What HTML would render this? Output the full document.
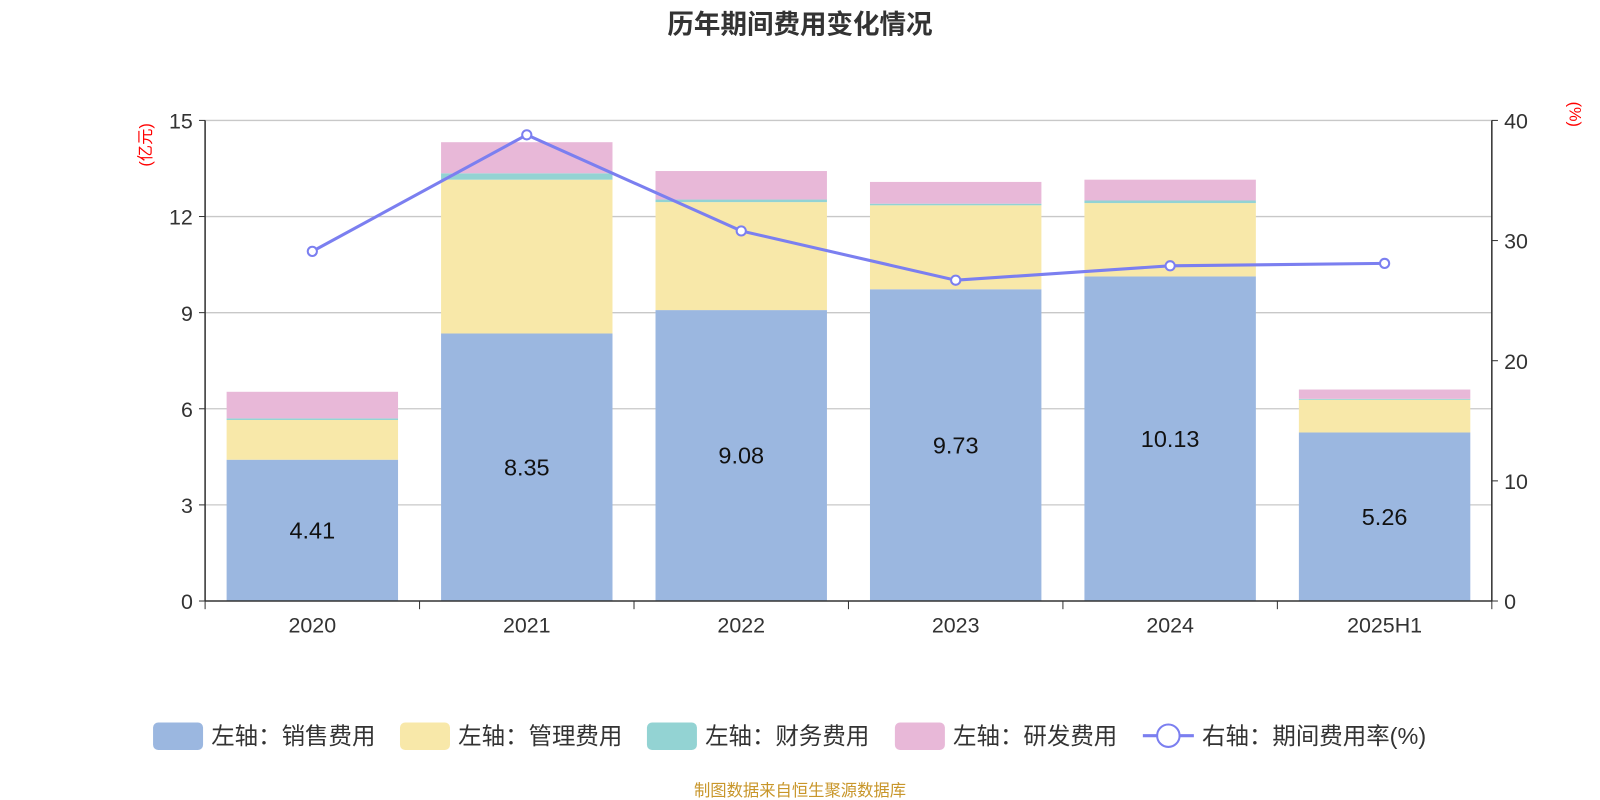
<!DOCTYPE html>
<html><head><meta charset="utf-8">
<style>
html,body{margin:0;padding:0;background:#fff;}
svg{display:block;font-family:"Liberation Sans","Noto Sans CJK SC",sans-serif;}
</style></head>
<body>
<svg id="chart" width="1600" height="800" viewBox="0 0 1600 800">
<g transform="scale(1.0204)">
<text x="784" y="33" text-anchor="middle" font-size="26" font-weight="bold" fill="#333">历年期间费用变化情况</text>
<text transform="translate(148,142) rotate(-90)" text-anchor="middle" font-size="16" fill="#f00">(亿元)</text>
<text transform="translate(1538,112) rotate(90)" text-anchor="middle" font-size="16" fill="#f00">(%)</text>
<g id="grid"></g><g id="bars"></g><g id="axes"></g><g id="line"></g>
<g id="legend" font-size="23" fill="#333"></g>
<text x="784" y="780" text-anchor="middle" font-size="16" fill="#c8962a">制图数据来自恒生聚源数据库</text>
</g>
</svg>
<script>
const categories=["2020","2021","2022","2023","2024","2025H1"];
const sales=[4.41,8.35,9.08,9.73,10.13,5.26];
const mgmt=[1.24,4.80,3.37,2.62,2.29,1.02];
const fin=[0.05,0.20,0.08,0.05,0.08,0.03];
const rd=[0.83,0.97,0.89,0.68,0.65,0.29];
const rate=[29.1,38.8,30.8,26.7,27.9,28.1];
const leftTicks=[0,3,6,9,12,15];
const rightTicks=[0,10,20,30,40];

const NS="http://www.w3.org/2000/svg";
const X0=201,X1=1462,Y0=589,Y1=118;
const band=(X1-X0)/categories.length;
const xc=i=>X0+band*(i+0.5);
const yL=v=>Y0-(v/15)*(Y0-Y1);
const yR=v=>Y0-(v/40)*(Y0-Y1);
function mk(tag,attrs,parent){const e=document.createElementNS(NS,tag);for(const k in attrs)e.setAttribute(k,attrs[k]);document.getElementById(parent).appendChild(e);return e;}

leftTicks.forEach(t=>{
  const y=yL(t);
  if(t>0){const g=mk('line',{x1:X0,x2:X1,y1:y,y2:y,stroke:'#c8c8c8','stroke-width':1.3},'grid');
  
  }
  const tk=mk('line',{x1:X0-6,x2:X0,y1:y,y2:y,stroke:'#333'},'axes');
  
  
  const tx=mk('text',{x:X0-12,y:y+8,'text-anchor':'end','font-size':21,fill:'#333'},'axes');tx.textContent=t;
  
  
});
rightTicks.forEach(t=>{
  const y=yR(t);
  const tk=mk('line',{x1:X1,x2:X1+6,y1:y,y2:y,stroke:'#333'},'axes');
  
  
  const tx=mk('text',{x:X1+12,y:y+8,'font-size':21,fill:'#333'},'axes');tx.textContent=t;
  
  
});
[['left-axis',X0,Y1,X0,Y0],['right-axis',X1,Y1,X1,Y0],['x-axis',X0,Y0,X1,Y0]].forEach(a=>{
  const l=mk('line',{x1:a[1],y1:a[2],x2:a[3],y2:a[4],stroke:'#333','stroke-width':1.5},'axes');
  
  
});
for(let i=0;i<=categories.length;i++){
  const x=X0+band*i;
  const l=mk('line',{x1:x,x2:x,y1:Y0,y2:Y0+8,stroke:'#333'},'axes');
  
  
}
const series=[[sales,'#9bb7e0','sales'],[mgmt,'#f8e8a9','mgmt'],[fin,'#93d3d3','fin'],[rd,'#e8b8d8','rd']];
const bw=168;
categories.forEach((c,i)=>{
  let acc=0;
  series.forEach(s=>{
    const v=s[0][i];
    const r=mk('rect',{x:xc(i)-bw/2,y:yL(acc+v),width:bw,height:yL(acc)-yL(acc+v),fill:s[1]},'bars');
    
    
    acc+=v;
  });
  const lb=mk('text',{x:xc(i),y:yL(sales[i]/2)+8,'text-anchor':'middle','font-size':23,fill:'#111'},'bars');
  lb.textContent=sales[i].toFixed(2);
  
  
  const xl=mk('text',{x:xc(i),y:Y0+31,'text-anchor':'middle','font-size':21,fill:'#333'},'axes');
  xl.textContent=c;
  
  
});
const pts=rate.map((v,i)=>xc(i)+','+yR(v)).join(' ');
const pl=mk('polyline',{points:pts,fill:'none',stroke:'#7b7ff0','stroke-width':3},'line');


rate.forEach((v,i)=>{
  const c=mk('circle',{cx:xc(i),cy:yR(v),r:4.5,fill:'#fff',stroke:'#7b7ff0','stroke-width':2},'line');
  
  
});
const leg=[['左轴：销售费用','#9bb7e0',150],['左轴：管理费用','#f8e8a9',392],['左轴：财务费用','#93d3d3',634],['左轴：研发费用','#e8b8d8',877]];
leg.forEach(l=>{
  const r=mk('rect',{x:l[2],y:708,width:49,height:27,rx:5,fill:l[1]},'legend');
  
  
  const t=mk('text',{x:l[2]+57,y:729},'legend');t.textContent=l[0];
  
  
});
const ll=mk('line',{x1:1120,x2:1170,y1:721,y2:721,stroke:'#7b7ff0','stroke-width':3},'legend');


const lc=mk('circle',{cx:1145,cy:721,r:11,fill:'#fff',stroke:'#7b7ff0','stroke-width':2},'legend');


const lt=mk('text',{x:1178,y:729},'legend');lt.textContent='右轴：期间费用率(%)';


</script>
</body></html>
